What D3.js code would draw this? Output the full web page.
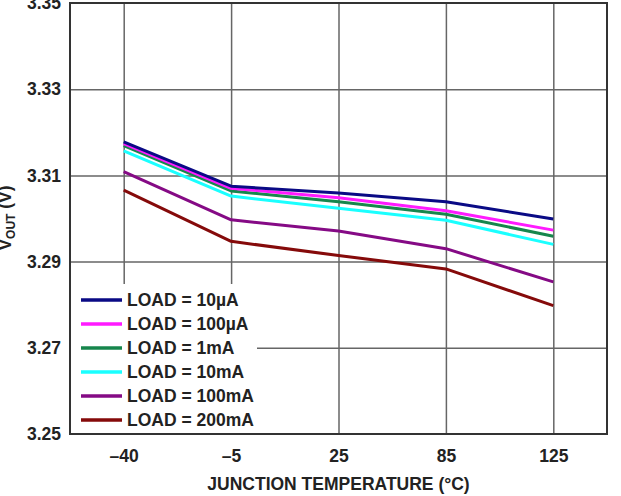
<!DOCTYPE html>
<html>
<head>
<meta charset="utf-8">
<script src="https://cdn.jsdelivr.net/npm/d3@7"></script>
<style>
  body { margin: 0; background: #fff; }
  svg { display: block; font-family: "Liberation Sans", Arial, sans-serif; font-weight: bold; }
  .grid line { stroke: #666; stroke-width: 1.5; }
  .grid .domain { display: none; }
  .axis .domain { display: none; }
  .axis text { font-size: 17.5px; font-weight: bold; fill: #222; }
  .axis-label { font-size: 17.5px; fill: #222; }
  .legend text { font-size: 17.5px; fill: #222; }
</style>
</head>
<body>
<svg id="chart"></svg>
<script>
// данные
const temps = ["–40", "–5", "25", "85", "125"];
const yTicks = [3.25, 3.27, 3.29, 3.31, 3.33, 3.35];
const seriesNames = ["LOAD = 10µA", "LOAD = 100µA", "LOAD = 1mA", "LOAD = 10mA", "LOAD = 100mA", "LOAD = 200mA"];
const seriesColors = ["#0a0a85", "#ff1aff", "#16864c", "#1affff", "#850a85", "#850a0a"];
const load10uA  = [3.3178, 3.3075, 3.3059, 3.3039, 3.2999];
const load100uA = [3.3174, 3.3070, 3.3048, 3.3018, 3.2973];
const load1mA   = [3.3169, 3.3064, 3.3039, 3.3010, 3.2959];
const load10mA  = [3.3157, 3.3052, 3.3024, 3.2996, 3.2940];
const load100mA = [3.3109, 3.2997, 3.2971, 3.2930, 3.2853];
const load200mA = [3.3066, 3.2947, 3.2914, 3.2883, 3.2798];
const seriesValues = [load10uA, load100uA, load1mA, load10mA, load100mA, load200mA];

const width = 621;
const height = 496;
const margin = {top: 3, right: 14, bottom: 62, left: 70};

const svg = d3.select("#chart")
    .attr("width", width)
    .attr("height", height);

const x = d3.scalePoint()
    .domain(temps)
    .range([margin.left, width - margin.right])
    .padding(0.5);

const y = d3.scaleLinear()
    .domain([3.25, 3.35])
    .range([height - margin.bottom, margin.top]);

const plotW = width - margin.left - margin.right;
const plotH = height - margin.top - margin.bottom;

// сетка
svg.append("g")
    .attr("class", "grid")
    .attr("transform", `translate(0,${height - margin.bottom})`)
    .call(d3.axisBottom(x).tickSize(-plotH).tickFormat(""));

svg.append("g")
    .attr("class", "grid")
    .attr("transform", `translate(${margin.left},0)`)
    .call(d3.axisLeft(y).tickValues(yTicks.slice(1, -1)).tickSize(-plotW).tickFormat(""));

// подписи осей
svg.append("g")
    .attr("class", "axis")
    .attr("transform", `translate(0,${height - margin.bottom})`)
    .call(d3.axisBottom(x).tickSize(0).tickPadding(16));

svg.append("g")
    .attr("class", "axis")
    .attr("transform", `translate(${margin.left},0)`)
    .call(d3.axisLeft(y).tickValues(yTicks).tickFormat(d3.format(".2f")).tickSize(0).tickPadding(9));

// линии
const line = d3.line()
    .x((d, i) => x(temps[i]))
    .y(d => y(d));

seriesValues.slice().reverse().forEach((vals, k) => {
    const idx = seriesValues.length - 1 - k;
    svg.append("path")
        .datum(vals)
        .attr("fill", "none")
        .attr("stroke", seriesColors[idx])
        .attr("stroke-width", 3)
        .attr("stroke-linejoin", "round")
        .attr("d", line);
});

// легенда
const legend = svg.append("g").attr("class", "legend");
legend.append("rect")
    .attr("x", margin.left + 1)
    .attr("y", 284)
    .attr("width", 186)
    .attr("height", height - margin.bottom - 285)
    .attr("fill", "#fff");

seriesNames.forEach((name, i) => {
    const cy = 300 + i * 24;
    legend.append("line")
        .attr("x1", 81).attr("x2", 122)
        .attr("y1", cy).attr("y2", cy)
        .attr("stroke", seriesColors[i])
        .attr("stroke-width", 3.5);
    legend.append("text")
        .attr("x", 127)
        .attr("y", cy)
        .attr("dy", "0.36em")
        .text(name);
});

// рамка
svg.append("rect")
    .attr("x", margin.left)
    .attr("y", margin.top)
    .attr("width", plotW)
    .attr("height", plotH)
    .attr("fill", "none")
    .attr("stroke", "#333")
    .attr("stroke-width", 2);

svg.append("text")
    .attr("class", "axis-label")
    .attr("x", margin.left + plotW / 2)
    .attr("y", 490)
    .style("text-anchor", "middle")
    .text("JUNCTION TEMPERATURE (°C)");

const yLabel = svg.append("text")
    .attr("class", "axis-label")
    .attr("transform", "rotate(-90)")
    .attr("x", -218)
    .attr("y", 11)
    .style("text-anchor", "middle");
yLabel.append("tspan").text("V");
yLabel.append("tspan").attr("dy", 4).style("font-size", "12px").text("OUT");
yLabel.append("tspan").attr("dy", -4).text(" (V)");
</script>
</body>
</html>
